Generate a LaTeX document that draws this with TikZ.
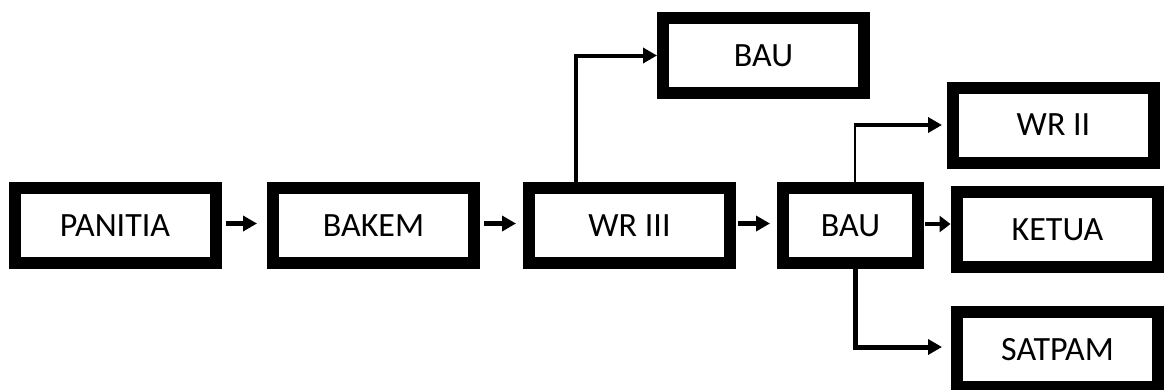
\documentclass[tikz,border=0pt]{standalone}
\usepackage{fontspec}
\setmainfont{Carlito}
\usetikzlibrary{arrows.meta}
\begin{document}
\begin{tikzpicture}[x=1pt,y=-1pt,
  box/.style={draw=black, line width=12pt, fill=white, inner sep=0pt, outer sep=6pt,
    minimum height=75pt, font=\fontsize{34}{40}\selectfont},
  wide/.style={box, minimum width=201pt},
  narrow/.style={box, minimum width=135pt},
  flow/.style={line width=4.5pt, -{Triangle[length=14pt,width=15pt]}},
  thin/.style={line width=2pt}
]
\useasboundingbox (0,0) rectangle (1164,389);

% main chain
\node[wide] (panitia) at (115,225.5) {PANITIA};
\node[wide] (bakem)   at (373.5,225.5) {BAKEM};
\node[wide] (wr3)     at (629.5,225.5) {WR III};
\node[narrow] (bau)   at (850.5,225.5) {BAU};

% branches
\node[wide] (bautop)  at (763.5,55.5) {BAU};
\node[wide] (wr2)     at (1053.5,125) {WR II};
\node[wide] (ketua)   at (1057.5,229.5) {KETUA};
\node[wide] (satpam)  at (1057.5,349.5) {SATPAM};

% short arrows between the boxes of the chain
\draw[flow, shorten <=4pt, shorten >=10pt] ([yshift=2pt]panitia.east) -- ([yshift=2pt]bakem.west);
\draw[flow, shorten <=4pt, shorten >=7pt] ([yshift=2pt]bakem.east) -- ([yshift=2pt]wr3.west);
\draw[flow, shorten <=2pt, shorten >=7pt] ([yshift=2pt]wr3.east) -- ([yshift=2pt]bau.west);
\draw[line width=4.5pt, -{Triangle[length=11pt,width=16pt]}, shorten <=1pt, shorten >=0.5pt]
  ([yshift=1.5pt]bau.east) -- ([yshift=1.5pt]bau.east -| ketua.west);

% elbow connectors
\coordinate (up3) at ([xshift=-54pt]wr3.north);
\draw[flow, line width=4pt] (up3) |- (bautop.west);

\coordinate (upb) at ([xshift=4.5pt]bau.north);
\draw[thin] (upb) -- (upb |- wr2.west);
\draw[flow, line width=4pt, shorten >=5pt] ([xshift=-1pt]upb |- wr2.west) -- (wr2.west);

\coordinate (dnb) at ([xshift=4.5pt]bau.south);
\draw[flow, line width=5pt, shorten >=9pt] (dnb) |- ([yshift=2.5pt]satpam.west);
\end{tikzpicture}
\end{document}
